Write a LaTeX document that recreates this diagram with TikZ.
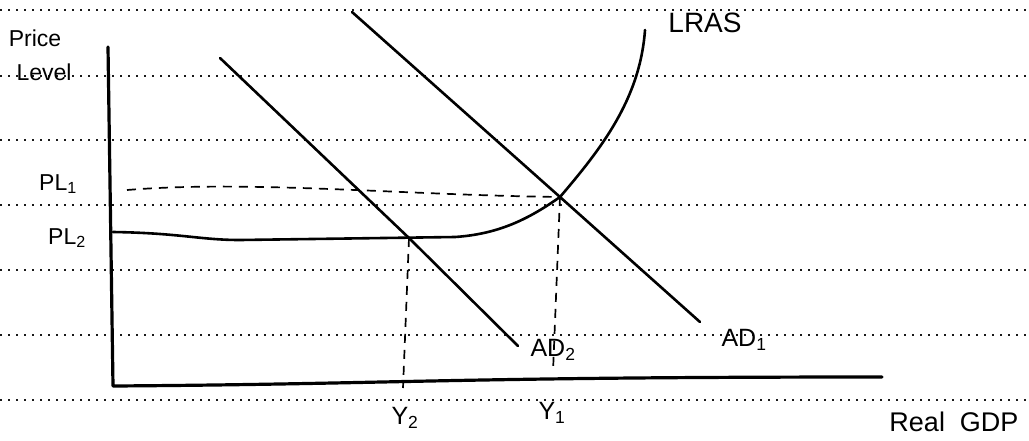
\documentclass[tikz,border=0pt]{standalone}
\usepackage{fontspec}
\setmainfont{Liberation Sans}
\usetikzlibrary{positioning}

\tikzset{
  rule/.style={line width=2.2pt, dash pattern=on 2pt off 6pt, black!90},
  curve/.style={line width=2.6pt, line cap=round, line join=round},
  guide/.style={line width=1.7pt, dash pattern=on 9pt off 7pt},
  hand/.style={inner sep=0pt, font=\fontsize{25}{27}\selectfont},
}

\begin{document}
\begin{tikzpicture}[x=1pt, y=-1pt]
\useasboundingbox (0,0) rectangle (1029,440);

% Ruled paper
\foreach \y in {10,76,140,205,270,335,400} {
    \draw[rule] (0,\y) -- (1029,\y);
}

% Axes
\coordinate (top) at (108,47);
\coordinate (origin) at (113,386);
\coordinate (xend) at (882,377);
\draw[curve, line width=3.2pt] (top) -- (origin) .. controls (400,384) and (450,377) .. (xend);

% Equilibria
\coordinate (E1) at (560,197);
\coordinate (E2) at (409,238);

% LRAS
\coordinate (lrasstart) at (113,232);
\coordinate (lrastop) at (645,30);
\draw[curve] (lrasstart) .. controls (180,233) and (200,240) .. (240,240)
    -- (455,237) .. controls (500,234) and (530,218) .. (E1)
    .. controls (600,150) and (640,100) .. (lrastop);
\node[hand, font=\fontsize{28}{30}\selectfont] (lras) at (705,23) {LRAS};

% AD curves
\coordinate (ad1top) at (352,12);
\coordinate (ad1end) at (700,322);
\coordinate (ad2top) at (220,58);
\coordinate (ad2end) at (518,346);
\draw[curve] (ad1top) -- (E1) -- (ad1end);
\draw[curve] (ad2top) -- (E2) -- (ad2end);
\node[hand] (ad1) at (744,340) {AD\textsubscript{1}};
\node[hand] (ad2) at (553,350) {AD\textsubscript{2}};

% Guides
\coordinate (pl1start) at (127,190);
\coordinate (y1foot) at (553,372);
\coordinate (y2foot) at (403,388);
\draw[guide] (pl1start) .. controls (250,180) and (400,195) .. (E1);
\draw[guide] (E1) -- (y1foot);
\draw[guide] (E2) -- (y2foot);

% Labels
\node[hand, font=\fontsize{23}{25}\selectfont] (price) at (35,38) {Price};
\node[hand, font=\fontsize{23}{25}\selectfont] (level) at (44,72) {Level};
\node[hand, font=\fontsize{23}{25}\selectfont] (pl1) at (58,184) {PL\textsubscript{1}};
\node[hand, font=\fontsize{23}{25}\selectfont] (pl2) at (67,238) {PL\textsubscript{2}};
\node[hand] (y2) at (405,418) {Y\textsubscript{2}};
\node[hand] (y1) at (552,413) {Y\textsubscript{1}};
\node[hand, font=\fontsize{27}{29}\selectfont] (gdp) at (954,422) {Real\ \ GDP};
\end{tikzpicture}
\end{document}
